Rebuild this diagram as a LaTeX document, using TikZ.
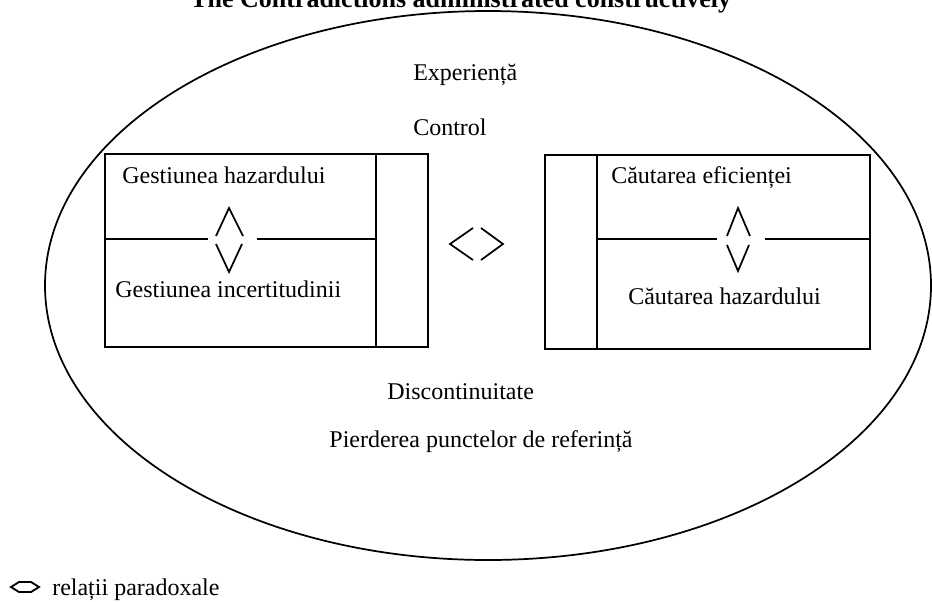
\documentclass[tikz,border=0pt]{standalone}
\usepackage{fontspec}
\setmainfont{Liberation Serif}
\begin{document}
\begin{tikzpicture}[x=0.75pt,y=-0.75pt,
  txt/.style={inner sep=0pt,font=\fontsize{18}{20}\selectfont},
  ttl/.style={inner sep=0pt,font=\fontsize{19.5}{22}\selectfont\bfseries},
  frame/.style={draw=black,line width=1.5pt},
  chev/.style={draw=black,line width=1.3pt,line join=miter},
  oval/.style={draw=black,line width=1.3pt}]
\useasboundingbox (0,0) rectangle (932,601);
% title (cut by the page top)
\node[ttl,anchor=base west] (title) at (190,7) {The Contradictions administrated constructively};
% ellipse
\draw[oval] (488,285.5) ellipse [x radius=443,y radius=274.5];
% top labels
\node[txt,anchor=base west] (exp) at (413,80) {Experiență};
\node[txt,anchor=base west] (ctl) at (413,135) {Control};
% left box
\coordinate (LA) at (105,154);
\coordinate (LB) at (428,347);
\draw[frame] (LA) rectangle (LB);
\draw[frame] (376,154) -- (376,347);
\coordinate (L1) at (105,239);
\coordinate (L2) at (208,239);
\coordinate (L3) at (257,239);
\coordinate (L4) at (376,239);
\draw[frame] (L1) -- (L2);
\draw[frame] (L3) -- (L4);
\draw[chev] (216,236) -- (229,208) -- (243,236);
\draw[chev] (216,244) -- (229,272) -- (242,244);
\node[txt,anchor=base west] (gh) at (122,183) {Gestiunea hazardului};
\node[txt,anchor=base west] (gi) at (115,297) {Gestiunea incertitudinii};
% right box
\coordinate (RA) at (545,155);
\coordinate (RB) at (870,349);
\draw[frame] (RA) rectangle (RB);
\draw[frame] (597,155) -- (597,349);
\coordinate (R1) at (597,239);
\coordinate (R2) at (717,239);
\coordinate (R3) at (765,239);
\coordinate (R4) at (870,239);
\draw[frame] (R1) -- (R2);
\draw[frame] (R3) -- (R4);
\draw[chev] (727,236) -- (738,208) -- (750,236);
\draw[chev] (727,245) -- (738,271) -- (749,245);
\node[txt,anchor=base west] (ce) at (611,183) {Căutarea eficienței};
\node[txt,anchor=base west] (ch) at (628,304) {Căutarea hazardului};
% central paradox symbol
\draw[chev] (473,228) -- (450,244) -- (473,260);
\draw[chev] (481,228) -- (503,244) -- (481,260);
% bottom labels
\node[txt,anchor=base west] (dis) at (387,399) {Discontinuitate};
\node[txt,anchor=base] (pier) at (481,447) {Pierderea punctelor de referință};
% legend
\draw[chev,line width=1.4pt] (11,587) -- (19,582) -- (31,582) -- (39,587) -- (31,592) -- (19,592) -- cycle;
\node[txt,anchor=base west] (leg) at (52,595) {relații paradoxale};
\end{tikzpicture}
\end{document}
